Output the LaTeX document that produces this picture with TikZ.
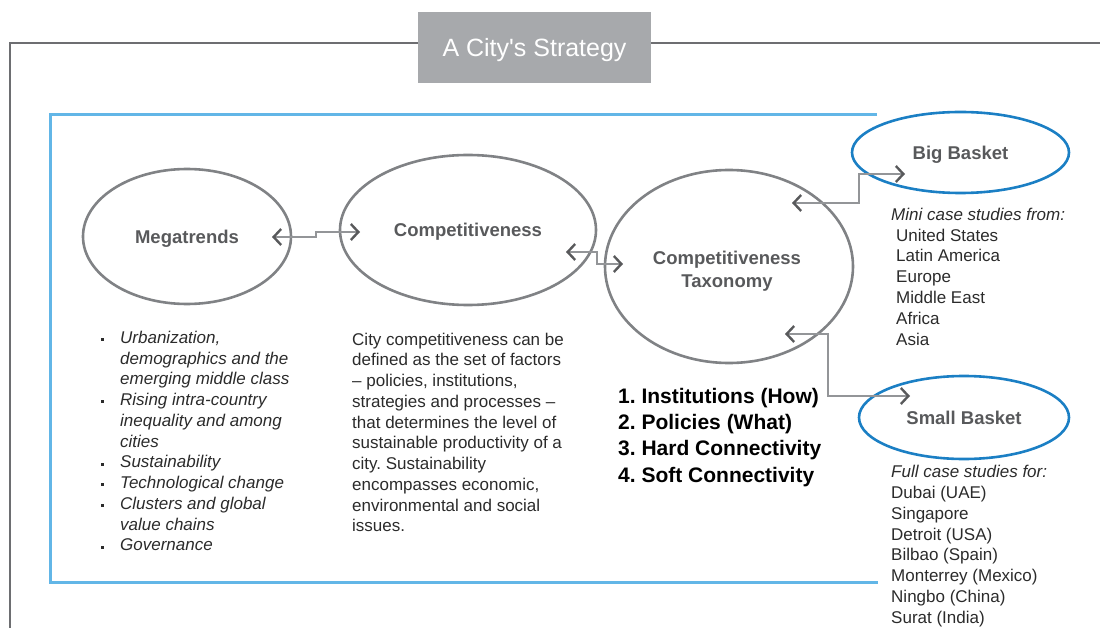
\documentclass[tikz,border=0pt]{standalone}
\usepackage{fontspec}
\setmainfont{Liberation Sans}
\usetikzlibrary{arrows.meta,shapes.geometric}
\definecolor{framegray}{HTML}{6D6E71}
\definecolor{titlegray}{HTML}{A7A9AC}
\definecolor{lightblue}{HTML}{62B6E7}
\definecolor{ellgray}{HTML}{808285}
\definecolor{ellblue}{HTML}{1B7FC4}
\definecolor{labelgray}{HTML}{58595B}
\definecolor{linegray}{HTML}{939598}
\definecolor{bodytext}{HTML}{2B2B2B}
\frenchspacing
\begin{document}
\frenchspacing
\begin{tikzpicture}[x=1pt,y=-1pt,
  oval/.style={ellipse, draw=ellgray, line width=2.6pt, inner sep=0pt, text=labelgray,
    font=\fontsize{18.5}{22}\selectfont\bfseries, text height=13.3pt, text depth=0pt},
  blueoval/.style={oval, draw=ellblue},
  conn/.style={draw=linegray, line width=1.4pt, line join=miter,
    arrows={Straight Barb[length=7.5pt,width=16pt,line width=2.4pt,color=labelgray]-Straight Barb[length=7.5pt,width=16pt,line width=2.4pt,color=labelgray]}},
  body/.style={inner sep=0pt, anchor=north west, align=left, text=bodytext,
    font=\fontsize{17}{20.75}\selectfont\frenchspacing},
  bullet/.style={fill=bodytext},
]
\useasboundingbox (0,0) rectangle (1100,628);
% outer frame
\draw[framegray, line width=2pt] (1102,43) -- (10,43) -- (10,630);
\node[fill=titlegray, minimum width=233pt, minimum height=71pt, inner sep=0pt, text=white,
  font=\fontsize{25}{30}\selectfont, text height=18pt, text depth=0pt] (title) at (534.5,47.5) {A City\textquotesingle s Strategy};
% blue frame
\draw[lightblue, line width=3pt] (877,115) -- (50,115) -- (50,582) -- (878,582);
% ellipses
\node[oval, minimum width=208pt, minimum height=135pt] (mega) at (187,236.5) {Megatrends};
\node[oval, minimum width=256pt, minimum height=150pt] (comp) at (468,230) {Competitiveness};
\node[oval, minimum width=248pt, minimum height=193pt] (tax) at (729,266.5) {};
\node[inner sep=0pt, anchor=north, align=center, text=labelgray,
  font=\fontsize{18.5}{23}\selectfont\bfseries] (taxlabel) at (727,251.2) {Competitiveness\\Taxonomy};
\node[blueoval, minimum width=217pt, minimum height=81pt] (big) at (960.5,152.5) {Big Basket};
\node[blueoval, minimum width=210pt, minimum height=83pt] (small) at (964,417.5) {Small Basket};
% connector end points
\coordinate (m1) at (272,237);
\coordinate (c1) at (360,232);
\coordinate (c2) at (566,252);
\coordinate (t1) at (623,264);
\coordinate (t2) at (792,203);
\coordinate (b1) at (905,174);
\coordinate (t3) at (785,334);
\coordinate (s1) at (910,396);
\draw[conn] (m1) -- (316,237) |- (c1);
\draw[conn] (c2) -- (597,252) |- (t1);
\draw[conn] (t2) -- (859,203) |- (b1);
\draw[conn] (t3) -- (828,334) |- (s1);
% megatrends list
\node[body, font=\fontsize{17}{20.75}\selectfont\itshape] (megalist) at (120,330.8)
 {Urbanization,\\demographics and the\\emerging middle class\\Rising intra-country\\inequality and among\\cities\\Sustainability\\Technological change\\Clusters and global\\value chains\\Governance};
\foreach \yy in {339.5,401.75,464,484.75,505.5,547} \fill[bullet] (100.5,\yy-1.5) rectangle ++(3,3);
% description
\node[body] (desc) at (352,332.6)
 {City competitiveness can be\\defined as the set of factors\\– policies, institutions,\\strategies and processes –\\that determines the level of\\sustainable productivity of a\\city. Sustainability\\encompasses economic,\\environmental and social\\issues.};
% numbered list
\node[body, text=black, font=\fontsize{21}{26.3}\selectfont\bfseries\frenchspacing] (taxlist) at (618,387.9)
 {1. Institutions (How)\\2. Policies (What)\\3. Hard Connectivity\\4. Soft Connectivity};
% big basket list
\node[body, font=\fontsize{17}{20.8}\selectfont\frenchspacing] (biglist) at (891,207.8)
 {\textit{Mini case studies from:}\\\hspace*{5pt}United States\\\hspace*{5pt}Latin America\\\hspace*{5pt}Europe\\\hspace*{5pt}Middle East\\\hspace*{5pt}Africa\\\hspace*{5pt}Asia};
% small basket list
\node[body, font=\fontsize{17}{20.9}\selectfont] (smalllist) at (891,464.8)
 {\textit{Full case studies for:}\\Dubai (UAE)\\Singapore\\Detroit (USA)\\Bilbao (Spain)\\Monterrey (Mexico)\\Ningbo (China)\\Surat (India)};
\end{tikzpicture}
\end{document}
